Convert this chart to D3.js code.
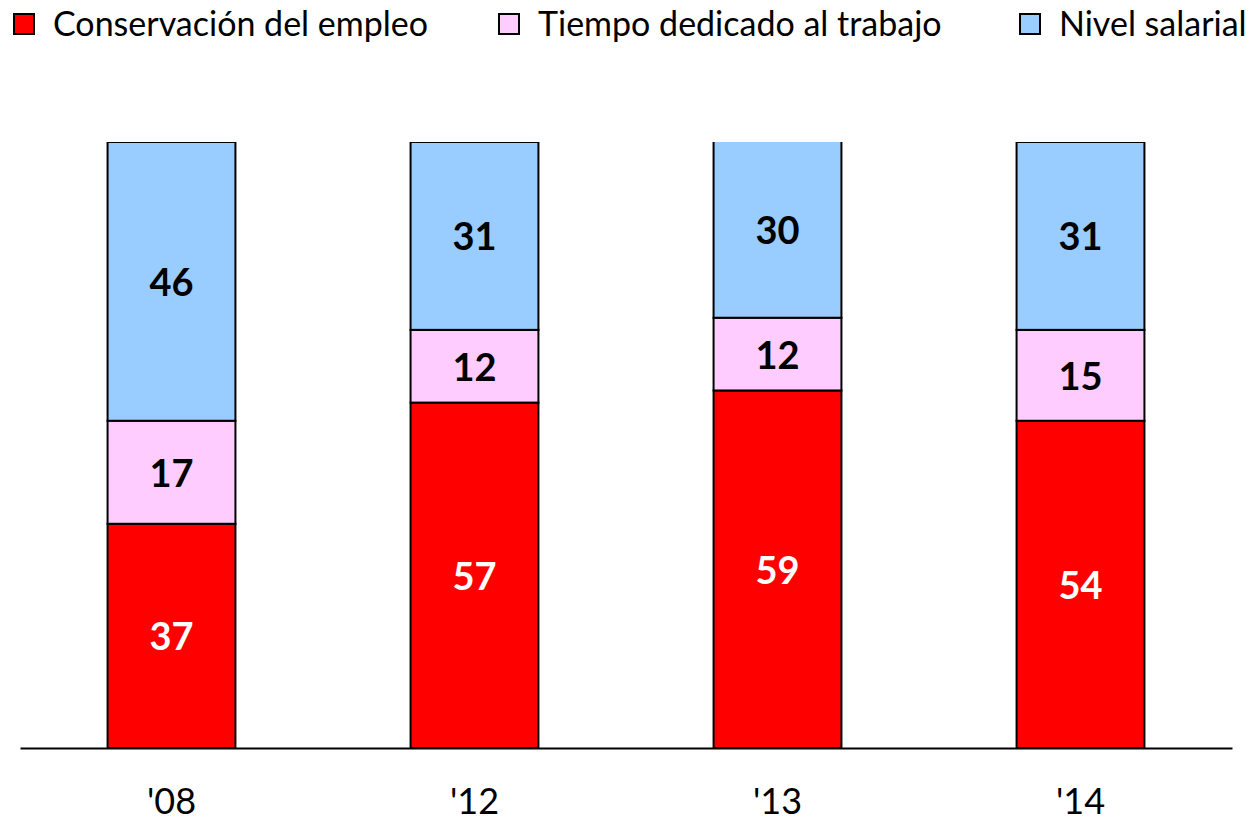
<!DOCTYPE html>
<html><head><meta charset="utf-8">
<script src="https://cdn.jsdelivr.net/npm/d3@7"></script>
<style>body{margin:0;background:#fff;} svg{display:block;}</style>
</head><body>
<svg id="c" width="1254" height="821"></svg>
<script>
const categories = ["'08", "'12", "'13", "'14"];
const seriesNames = ["Conservación del empleo", "Tiempo dedicado al trabajo", "Nivel salarial"];
const conservacion = [37, 57, 59, 54];
const tiempo = [17, 12, 12, 15];
const salarial = [46, 31, 30, 31];
const colors = ["#ff0000", "#ffccff", "#99ccff"];
const labelColors = ["#ffffff", "#000000", "#000000"];

const svg = d3.select("#c");
const font = "Lato, 'Open Sans', sans-serif";
const x = d3.scaleBand().domain(categories).range([20, 1232]).paddingInner(0.578).paddingOuter(0.289);
const y = d3.scaleLinear().domain([0, 100]).range([748, 142]);

const rows = categories.map((c, i) => ({cat: c, s0: conservacion[i], s1: tiempo[i], s2: salarial[i]}));
const stack = d3.stack().keys(["s0", "s1", "s2"])(rows);

svg.append("clipPath").attr("id", "clip").append("rect")
  .attr("x", 0).attr("y", y(100)).attr("width", 1254).attr("height", y(0) - y(100) + 2);

const g = svg.append("g").attr("clip-path", "url(#clip)");
stack.forEach((layer, k) => {
  g.selectAll(null).data(layer).enter().append("rect")
    .attr("x", d => x(d.data.cat))
    .attr("width", x.bandwidth())
    .attr("y", d => y(d[1]))
    .attr("height", d => y(d[0]) - y(d[1]))
    .attr("fill", colors[k])
    .attr("stroke", "#000").attr("stroke-width", 2);
});
stack.forEach((layer, k) => {
  svg.selectAll(null).data(layer).enter().append("text")
    .attr("x", d => x(d.data.cat) + x.bandwidth() / 2)
    .attr("y", d => (y(d[0]) + y(Math.min(d[1], 100))) / 2)
    .attr("dy", "0.38em")
    .attr("text-anchor", "middle")
    .attr("font-family", font).attr("font-weight", "bold").attr("font-size", 38)
    .attr("fill", labelColors[k])
    .text(d => d[1] - d[0]);
});

// baseline
const xAxis = d3.axisBottom(x).tickSize(0).tickPadding(40);
const ax = svg.append("g").attr("transform", `translate(0,${y(0)})`).call(xAxis);
ax.select(".domain").attr("stroke", "#000").attr("stroke-width", 2);
ax.selectAll("text").attr("font-family", font).attr("font-size", 36).attr("fill", "#000").attr("dy", "0.71em");

// legend
const legX = [13, 498, 1019];
const leg = svg.selectAll(".leg").data(seriesNames).enter().append("g")
  .attr("transform", (d, i) => `translate(${legX[i]},13)`);
leg.append("rect").attr("x", 1).attr("y", 1).attr("width", 20).attr("height", 20)
  .attr("fill", (d, i) => colors[i]).attr("stroke", "#000").attr("stroke-width", 2);
leg.append("text").attr("x", 40).attr("y", 11).attr("dy", "0.36em")
  .attr("font-family", font).attr("font-size", 34).attr("fill", "#000").text(d => d);
</script>
</body></html>
